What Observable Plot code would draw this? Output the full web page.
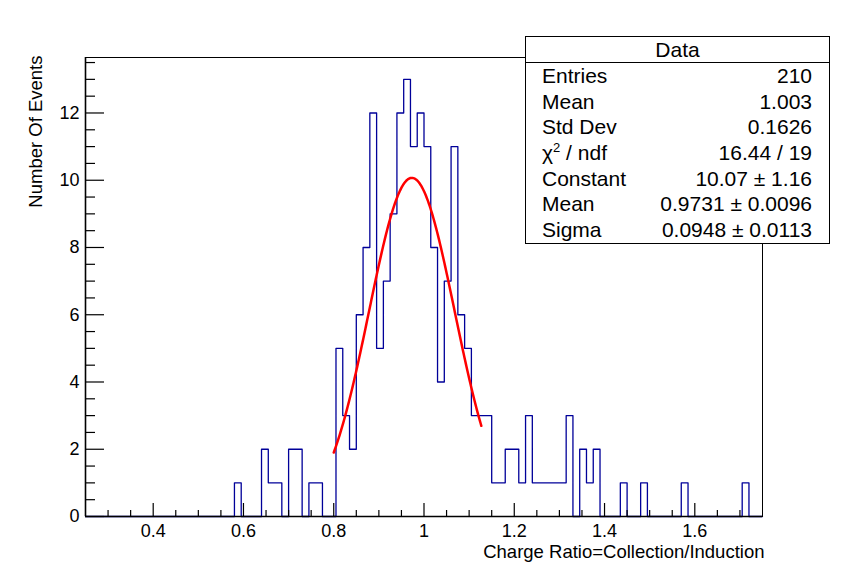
<!DOCTYPE html>
<html>
<head>
<meta charset="utf-8">
<script src="https://cdn.jsdelivr.net/npm/d3@7"></script>
<script src="https://cdn.jsdelivr.net/npm/@observablehq/plot@0.6"></script>
<style>
  body { margin: 0; background: #fff; }
  #wrap { position: relative; width: 847px; height: 574px; font-family: "Liberation Sans", Arial, Helvetica, sans-serif; }
  #stats { position: absolute; left: 525px; top: 36px; width: 305px; box-sizing: border-box;
           border: 1px solid #000; background: #fff; font-size: 21px; color: #000; }
  #stats .title { height: 25px; line-height: 25px; text-align: center; border-bottom: 1px solid #000; }
  #stats .row { display: flex; justify-content: space-between; height: 25.67px; line-height: 25.67px; padding: 0 17px 0 16px; }
  #stats sup { font-size: 13px; vertical-align: 8px; line-height: 0; }
</style>
</head>
<body>
<div id="wrap"></div>
<script>
// ---- data ----
const xMin = 0.25, xMax = 1.75, binWidth = 0.015, yMax = 13.65;
const counts = [
  0,0,0,0,0,0,0,0,0,0,
  0,0,0,0,0,0,0,0,0,0,
  0,0,1,0,0,0,2,1,1,0,
  2,2,0,1,1,0,0,5,3,2,
  6,8,12,5,7,9,12,13,11,12,
  11,8,4,7,11,6,5,3,3,3,
  1,1,2,2,1,3,1,1,1,1,
  1,3,0,2,1,2,0,0,0,1,
  0,0,1,0,0,0,0,0,1,0,
  0,0,0,0,0,0,0,1,0,0
];
const fitConstant = 10.07, fitMean = 0.9731, fitSigma = 0.0948;
const fitRange = [0.8, 1.127];
const xMajor = [0.4, 0.6, 0.8, 1, 1.2, 1.4, 1.6];
const xMinor = [0.3,0.35,0.45,0.5,0.55,0.65,0.7,0.75,0.85,0.9,0.95,1.05,1.1,1.15,1.25,1.3,1.35,1.45,1.5,1.55,1.65,1.7];
const yMajor = [0, 2, 4, 6, 8, 10, 12];
const yMinor = [0.5,1,1.5,2.5,3,3.5,4.5,5,5.5,6.5,7,7.5,8.5,9,9.5,10.5,11,11.5,12.5,13,13.5];
const statsTitle = "Data";
const statsLabels = ["Entries", "Mean", "Std Dev", "χ2 / ndf", "Constant", "Mean", "Sigma"];
const statsValues = ["210", "1.003", "0.1626", "16.44 / 19", "10.07 ± 1.16", "0.9731 ± 0.0096", "0.0948 ± 0.0113"];
const xTitle = "Charge Ratio=Collection/Induction";
const yTitle = "Number Of Events";

// histogram outline points (bin low edges)
const hist = counts.map((c, k) => ({x: xMin + k * binWidth, y: c}));
hist.push({x: xMax, y: 0});

// fitted gaussian from the fit parameters
const fit = [];
const nS = 200;
for (let i = 0; i <= nS; i++) {
  const x = fitRange[0] + (fitRange[1] - fitRange[0]) * i / nS;
  fit.push({x, y: fitConstant * Math.exp(-0.5 * ((x - fitMean) / fitSigma) ** 2)});
}

const chart = Plot.plot({
  width: 847, height: 574,
  marginLeft: 85, marginRight: 85, marginTop: 57, marginBottom: 58,
  style: {fontFamily: '"Liberation Sans", Arial, Helvetica, sans-serif', fontSize: "18px", color: "#000", background: "#fff"},
  x: {domain: [xMin, xMax]},
  y: {domain: [0, yMax]},
  marks: [
    Plot.line(hist, {x: "x", y: "y", curve: "step-after", stroke: "#000099", strokeWidth: 1.3}),
    Plot.line(fit, {x: "x", y: "y", stroke: "#ff0000", strokeWidth: 2.5}),
    Plot.frame({stroke: "#000", strokeWidth: 1}),
    Plot.ruleY([0], {stroke: "#000", strokeWidth: 1.6}),
    Plot.ruleX([xMin], {stroke: "#000", strokeWidth: 1.6}),
    Plot.ruleX(xMajor, {x: d => d, y1: 0, y2: 0, insetTop: -13, stroke: "#000", strokeWidth: 1.2}),
    Plot.ruleX(xMinor, {x: d => d, y1: 0, y2: 0, insetTop: -6, stroke: "#000", strokeWidth: 1.2}),
    Plot.ruleY(yMajor, {y: d => d, x1: xMin, x2: xMin, insetRight: -19, stroke: "#000", strokeWidth: 1.2}),
    Plot.ruleY(yMinor, {y: d => d, x1: xMin, x2: xMin, insetRight: -10, stroke: "#000", strokeWidth: 1.2}),
    Plot.axisX({ticks: xMajor, tickSize: 0, tickPadding: 8, tickFormat: d => String(d), label: null, fontSize: 18}),
    Plot.axisY({ticks: yMajor, tickSize: 0, tickPadding: 6, tickFormat: d => String(d), label: null, fontSize: 18}),
    Plot.text([xTitle], {text: d => d, frameAnchor: "bottom-right", textAnchor: "end", lineAnchor: "middle", dy: 36, dx: 2, fontSize: 18.5}),
    Plot.text([yTitle], {text: d => d, frameAnchor: "top-left", textAnchor: "end", lineAnchor: "middle", rotate: -90, dx: -49, dy: -2, fontSize: 18.5})
  ]
});

const wrap = document.getElementById("wrap");
wrap.appendChild(chart);

// stats box
const box = document.createElement("div");
box.id = "stats";
const t = document.createElement("div");
t.className = "title";
t.textContent = statsTitle;
box.appendChild(t);
statsLabels.forEach((lab, i) => {
  const r = document.createElement("div");
  r.className = "row";
  const l = document.createElement("span");
  if (lab.startsWith("χ2")) {
    l.appendChild(document.createTextNode("χ"));
    const s = document.createElement("sup");
    s.textContent = "2";
    l.appendChild(s);
    l.appendChild(document.createTextNode(lab.slice(2)));
  } else {
    l.textContent = lab;
  }
  const v = document.createElement("span");
  v.textContent = statsValues[i];
  r.appendChild(l);
  r.appendChild(v);
  box.appendChild(r);
});
wrap.appendChild(box);
</script>
</body>
</html>
